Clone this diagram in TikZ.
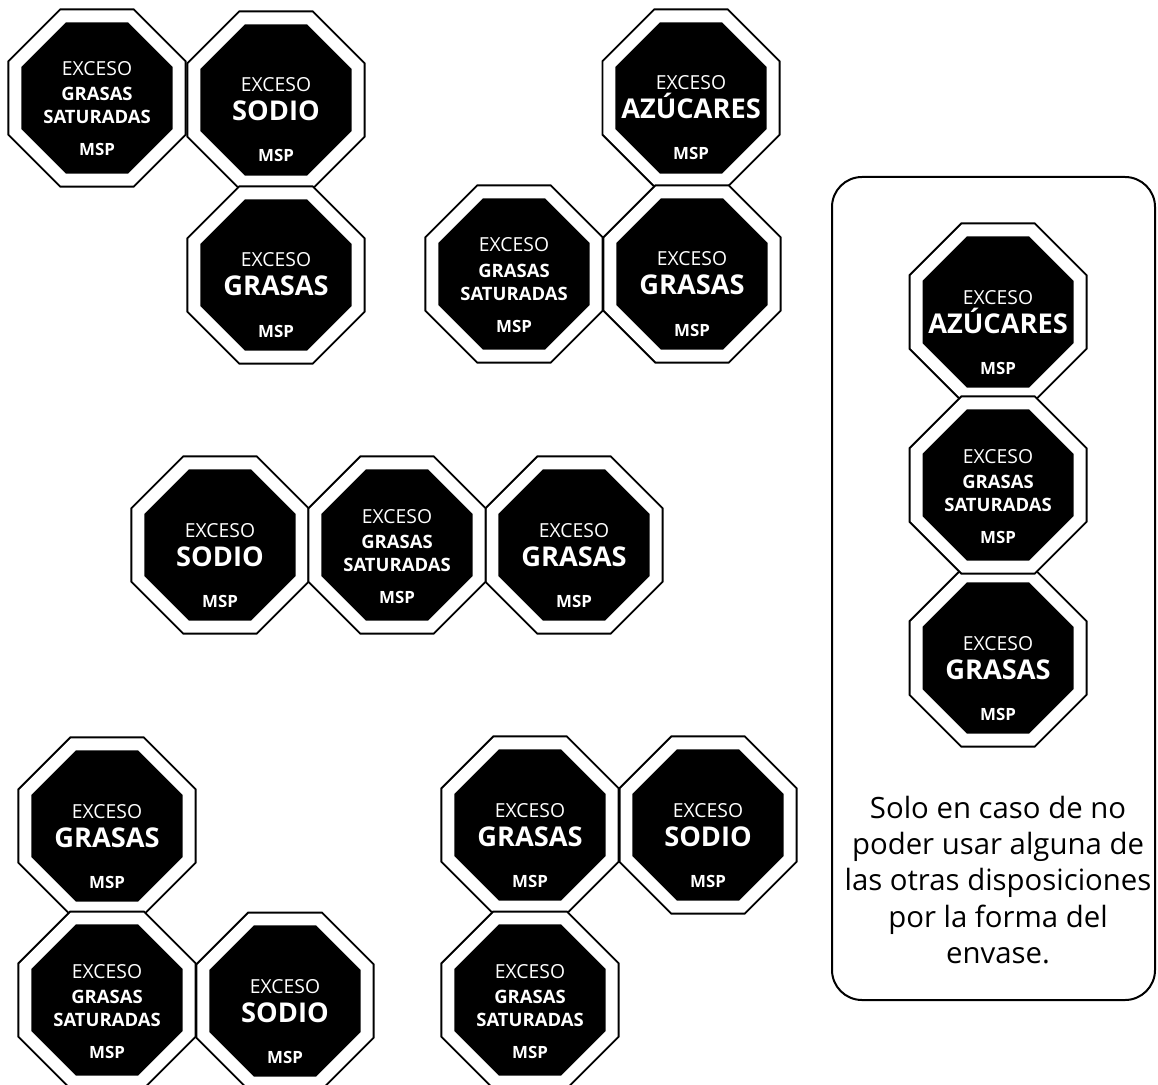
\documentclass[tikz,border=0pt]{standalone}
\usepackage{fontspec}
\setmainfont{Open Sans}
\usetikzlibrary{shapes.geometric}

\tikzset{
  sello/.style={regular polygon, regular polygon sides=8, minimum size=3.53cm,
    inner sep=0pt, fill=black, draw=black, line width=0.04cm,
    double=white, double distance=0.24cm},
  exceso/.style={text=white, anchor=base, inner sep=0pt,
    font=\fontsize{11}{13}\selectfont},
  grande/.style={text=white, anchor=base, inner sep=0pt,
    font=\fontsize{15.5}{18}\selectfont\bfseries},
  chico/.style={text=white, anchor=base, inner sep=0pt,
    font=\fontsize{10.5}{12}\selectfont\bfseries},
  msp/.style={text=white, anchor=base, inner sep=0pt,
    font=\fontsize{9.6}{11}\selectfont\bfseries}
}

\begin{document}
\begin{tikzpicture}[x=0.02cm, y=-0.02cm]

  \useasboundingbox (0,0) rectangle (1158,1084);

  % sellos de una palabra
  \foreach \n/\x/\y/\w in {a2/276/100/SODIO, a3/276/275/GRASAS,
      b1/691/98/AZÚCARES, b3/692/274/GRASAS,
      c1/220/545/SODIO, c3/574/545/GRASAS,
      d1/107/826/GRASAS, d3/285/1001/SODIO,
      e1/530/825/GRASAS, e2/708/825/SODIO,
      f1/998/312/AZÚCARES, f3/998/658/GRASAS} {
    \node [sello] (\n) at (\x,\y) {};
    \node [exceso] (\n-e) at (\x,\y-8) {EXCESO};
    \node [grande] (\n-w) at (\x,\y+21) {\w};
    \node [msp] (\n-m) at (\x,\y+62) {MSP};
  }

  % sellos de grasas saturadas
  \foreach \n/\x/\y in {a1/97/98, b2/514/274, c2/397/545,
      d2/107/1000, e3/530/1000, f2/998/485} {
    \node [sello] (\n) at (\x,\y) {};
    \node [exceso] (\n-e) at (\x,\y-22) {EXCESO};
    \node [chico] (\n-g) at (\x,\y+3) {GRASAS};
    \node [chico] (\n-s) at (\x,\y+26) {SATURADAS};
    \node [msp] (\n-m) at (\x,\y+58) {MSP};
  }

  \draw [line width=0.04cm, rounded corners=0.6cm] (832,177) rectangle (1155,1000);
  \node [align=center, font={\fontsize{16.7}{20.6}\selectfont}] (nota) at (998,880)
    {Solo en caso de no\\poder usar alguna de\\las otras disposiciones\\por la forma del\\envase.};

\end{tikzpicture}
\end{document}
